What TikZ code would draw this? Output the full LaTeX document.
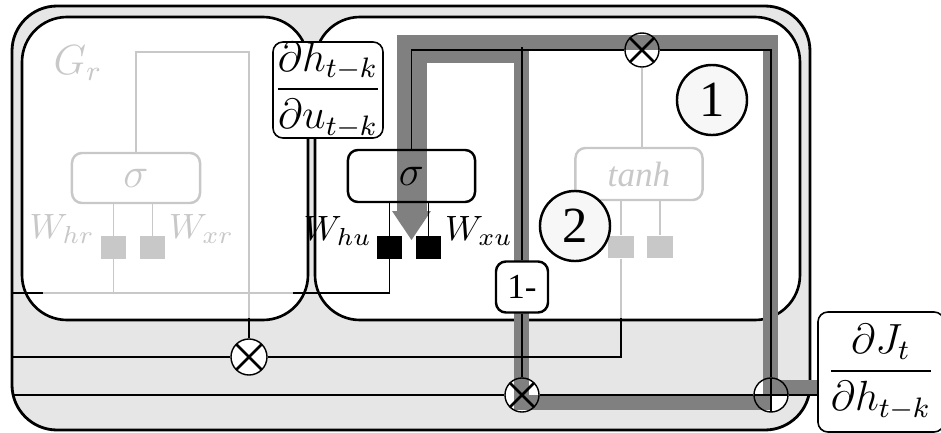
\documentclass[tikz,border=0pt]{standalone}
\usepackage{amsmath}
\usepackage{fontspec}
\setmainfont{Liberation Serif}
\usetikzlibrary{positioning, calc}
\definecolor{fadegray}{RGB}{200,200,200}
\definecolor{bandgray}{RGB}{128,128,128}
\definecolor{cellgray}{RGB}{230,230,230}
\pgfdeclarelayer{back}
\pgfdeclarelayer{bands}
\pgfsetlayers{back,bands,main}

\begin{document}
\begin{tikzpicture}[x=0.01cm, y=-0.01cm,
		cellbox/.style={draw, line width=0.75pt, rounded corners=0.45cm},
		wire/.style={line width=0.35pt},
		thickwire/.style={line width=0.55pt},
		fadewire/.style={line width=0.45pt, draw=fadegray},
		gatebox/.style={draw, line width=0.7pt, rounded corners=0.1cm, minimum width=1.27cm, minimum height=0.52cm, inner sep=0pt, font=\large},
		fadebox/.style={gatebox, draw=fadegray, text=fadegray, fill=white},
		wsq/.style={fill=black, minimum width=0.25cm, minimum height=0.22cm, inner sep=0pt},
		fadesq/.style={wsq, fill=fadegray},
		mulnode/.style={circle, draw, line width=0.4pt, minimum size=0.34cm, inner sep=0pt,
			path picture={\draw[line width=0.75pt] (path picture bounding box.north west) -- (path picture bounding box.south east)
				(path picture bounding box.north east) -- (path picture bounding box.south west);}},
		addnode/.style={circle, draw, line width=0.4pt, minimum size=0.34cm, inner sep=0pt,
			path picture={\draw[line width=0.6pt] (path picture bounding box.north) -- (path picture bounding box.south)
				(path picture bounding box.west) -- (path picture bounding box.east);}},
		numcirc/.style={circle, draw, line width=0.7pt, minimum size=0.7cm, inner sep=0pt, fill=white!97!black, font=\Large},
		onebox/.style={draw, line width=0.7pt, rounded corners=0.1cm, fill=white, minimum width=0.52cm, minimum height=0.51cm, inner sep=0pt},
		fraclab/.style={draw, line width=0.45pt, rounded corners=0.1cm, fill=white, inner sep=0pt, font=\large},
		wlab/.style={inner sep=1pt},
		band/.style={draw=bandgray, line width=0.15cm}
	]
	\useasboundingbox (0,0) rectangle (941,433);
	% cell and gate regions
	\begin{pgfonlayer}{back}
		\draw[cellbox, line width=0.8pt, fill=cellgray] (12,6) rectangle (810,430);
		\draw[cellbox, fill=white] (22,17) rectangle (308,320);
		\draw[cellbox, fill=white] (315,17) rectangle (800,320);
	\end{pgfonlayer}

	% reset gate
	\node[fadebox, minimum width=1.28cm, minimum height=0.5cm] (sigr) at (136,178) {$\sigma$};
	\node[text=fadegray, font=\large] (lgr) at (78,63) {$G_r$};
	\node[fadesq] (sqhr) at (113.5,247.5) {};
	\node[fadesq] (sqxr) at (152.5,247.5) {};
	\node[wlab, text=fadegray, anchor=east] (lwhr) at (99,229) {$W_{hr}$};
	\node[wlab, text=fadegray, anchor=west] (lwxr) at (165,229) {$W_{xr}$};

	% update gate
	\node[gatebox, fill=none] (sigu) at (411.5,176) {$\sigma$};
	\node[wsq] (sqhu) at (389.5,247.5) {};
	\node[wsq] (sqxu) at (428.5,247.5) {};
	\node[wlab, anchor=east] (lwhu) at (376,231) {$W_{hu}$};
	\node[wlab, anchor=west] (lwxu) at (441,231) {$W_{xu}$};

	% candidate
	\node[fadebox, font=\normalsize] (tanhb) at (639,174) {\textit{tanh}};
	\node[fadesq] (sqth) at (621,247) {};
	\node[fadesq] (sqtx) at (660,247) {};

	% operators
	\node[mulnode, minimum size=0.36cm] (mulr) at (249,357) {};
	\node[mulnode] (mulc) at (642,50) {};
	\node[mulnode] (mulz) at (522,395) {};
	\node[addnode] (addh) at (771,395) {};
	\node[onebox] (omz) at (522,287) {1-};

	\node[numcirc] (one) at (712,100) {1};
	\node[numcirc] (two) at (575,226) {2};

	\node[fraclab, minimum width=1.1cm, minimum height=0.94cm] (dhdu) at (328,90) {$\dfrac{\partial h_{t-k}}{\partial u_{t-k}}$};
	\node[fraclab, minimum width=1.26cm, minimum height=1.2cm] (djdh) at (881,372) {$\dfrac{\partial J_t}{\partial h_{t-k}}$};

	\begin{pgfonlayer}{back}
		\foreach \m in {mulr,mulc,mulz,addh}
			\fill[white] (\m) circle[radius=0.17cm];
	\end{pgfonlayer}

	% wires
	\coordinate (rtop) at (249,52);
	\coordinate (rgap) at (249,318);
	\draw[fadewire] (sigr.north) |- (rtop) -- (rgap);
	\draw[wire] (rgap) -- (mulr.north);
	\draw[fadewire] (sigr.south -| sqhr) -- (sqhr.north);
	\draw[fadewire] (sigr.south -| sqxr) -- (sqxr.north);

	\coordinate (hin) at (12,293);
	\coordinate (hfa) at (43,293);
	\coordinate (hfb) at (293,293);
	\draw[wire] (hin) -- (hfa);
	\draw[fadewire] (hfa) -- (hfb);
	\draw[fadewire] (sqhr.south) -- (sqhr.south |- hin);
	\draw[wire] (hfb) -| (sqhu.south);

	\draw[wire] (sigu.south -| sqhu) -- (sqhu.north);
	\draw[wire] (sigu.south -| sqxu) -- (sqxu.north);
	\draw[wire] (sigu.north) |- (mulc.west);
	\coordinate (ztop) at (522,47);
	\draw[thickwire] (ztop) -- (omz.north);
	\draw[thickwire] (omz.south) -- (mulz.north);
	\draw[thickwire] (mulc.east) -| (addh.north);

	\draw[fadewire] (mulc.south) -- (mulc.south |- tanhb.north);
	\draw[fadewire] (tanhb.south -| sqth) -- (sqth.north);
	\draw[fadewire] (tanhb.south -| sqtx) -- (sqtx.north);
	\coordinate (tgap) at (621,318);
	\draw[fadewire] (sqth.south) -- (tgap);
	\coordinate (xin) at (12,357);
	\draw[wire] (xin) -- (mulr.west);
	\draw[wire] (mulr.east) -| (tgap);

	\coordinate (sin) at (12,395);
	\draw[thickwire] (sin) -- (mulz.west);
	\draw[thickwire] (mulz.east) -- (addh.west);
	\draw[thickwire] (addh.east) -- (addh.east -| djdh.west);

	% gradient paths
	\begin{pgfonlayer}{bands}
		\draw[band] (818,387.5) -- (770.5,387.5) -- (770.5,42.5) -- (404.5,42.5) -- (404.5,212);
		\draw[band] (771,402.5) -- (521.5,402.5) -- (521.5,55.5) -- (419,55.5) -- (419,212);
		\fill[bandgray] (392,211) -- (431,211) -- (411.5,240) -- cycle;
	\end{pgfonlayer}
\end{tikzpicture}
\end{document}
